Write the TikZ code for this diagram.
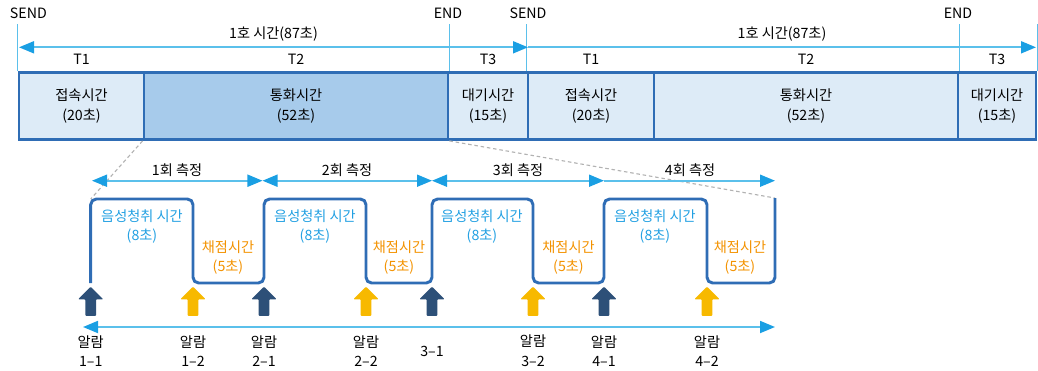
\documentclass[tikz,border=0pt]{standalone}
\usepackage{fontspec}
\setmainfont{Noto Sans CJK KR}
\usetikzlibrary{shapes.arrows,arrows.meta,positioning}

\definecolor{boxline}{HTML}{2F6DB5}
\definecolor{lightcell}{HTML}{DDEBF7}
\definecolor{darkcell}{HTML}{A7CBEB}
\definecolor{guideblue}{HTML}{5BC0EB}
\definecolor{tipblue}{HTML}{1A9FE3}
\definecolor{listenblue}{HTML}{22A0E2}
\definecolor{markorange}{HTML}{F39200}
\definecolor{navyarrow}{HTML}{2D5078}
\definecolor{yellowarrow}{HTML}{F7B900}

\tikzset{
  cell/.style={draw=boxline, line width=2pt, fill=lightcell, minimum height=1.675cm, align=center, inner sep=0},
  guide/.style={draw=guideblue, line width=0.9pt},
  span/.style={draw=guideblue, line width=1.3pt, {Triangle[length=3.75mm,width=3mm,color=tipblue]}-{Triangle[length=3.75mm,width=3mm,color=tipblue]}},
  endspan/.style={draw=guideblue, line width=1.3pt, -{Triangle[length=3.75mm,width=3mm,color=tipblue]}},
  wave/.style={draw=boxline, line width=2.1pt, rounded corners=4pt},
  zoomline/.style={draw=gray!60, dash pattern=on 2.5pt off 2pt, line width=0.8pt},
  alarm/.style={single arrow, shape border rotate=90, draw=none, inner sep=3.6pt, minimum height=0.73cm, single arrow head extend=0.18cm, rounded corners=0.6pt},
  listen/.style={text=listenblue, align=center},
  scoretext/.style={text=markorange, align=center},
  alarmtext/.style={align=center}
}

\begin{document}
\begin{tikzpicture}[x=0.025cm, y=-0.025cm, font=\fontsize{10.1}{14}\selectfont]
        \useasboundingbox (0,0) rectangle (1038,370);
        % call cycle boxes
        \node[cell, minimum width=3.125cm] (C1) at (81.5,106) {접속시간\\(20초)};
        \node[cell, minimum width=7.6cm, fill=darkcell] (C2) at (296,106) {통화시간\\(52초)};
        \node[cell, minimum width=2cm] (C3) at (488,106) {대기시간\\(15초)};
        \node[cell, minimum width=3.15cm] (C4) at (591,106) {접속시간\\(20초)};
        \node[cell, minimum width=7.6cm] (C5) at (806,106) {통화시간\\(52초)};
        \node[cell, minimum width=1.95cm] (C6) at (997,106) {대기시간\\(15초)};
        \node (S1) at (5,13.5) [anchor=west] {SEND};
        \node (E1) at (448,13.5) {END};
        \node (S2) at (528,13.5) {SEND};
        \node (E2) at (958,13.5) {END};
        \draw[guide] (C1.north west) -- (C1.north west |- S1.south);
        \draw[guide] (C2.north east) -- (C2.north east |- E1.south);
        \draw[guide] (C4.north west) -- (C4.north west |- S2.south);
        \draw[guide] (C5.north east) -- (C5.north east |- E2.south);
        \draw[guide] (C6.north east) -- (C6.north east |- E2.south);
        \coordinate (A0) at (19,47.3);
        \coordinate (A1) at (528,47.3);
        \coordinate (A2) at (1036,47.3);
        \draw[span] (A0) -- (A1);
        \draw[endspan] (A1) -- (A2);
        \node (H1) at (273.5,34) {1호 시간(87초)};
        \node (H2) at (782,34) {1호 시간(87초)};
        \node (T1) at (81.5,59) {T1};
        \node (T2) at (296,59) {T2};
        \node (T3) at (488,59) {T3};
        \node (T4) at (591,59) {T1};
        \node (T5) at (806,59) {T2};
        \node (T6) at (997,59) {T3};
        % zoom of the talk time
        \coordinate (W0) at (90.7,199);
        \coordinate (W1) at (775,198);
        \draw[zoomline] (C2.south west) -- (W0);
        \draw[zoomline] (C2.south east) -- (W1);
        \draw[wave] (90.7,283) |- (193,199) |- (264,283) |- (366,199) |- (432,283) |- (533,199) |- (604,283) |- (707,199) |- (775,283) -- (W1);
        % measurement rounds
        \coordinate (M0) at (92,180.7);
        \coordinate (M1) at (262.5,180.7);
        \coordinate (M2) at (432,180.7);
        \coordinate (M3) at (604,180.7);
        \coordinate (M4) at (775,180.7);
        \draw[span] (M0) -- (M1);
        \draw[span] (M1) -- (M2);
        \draw[span] (M2) -- (M3);
        \draw[endspan] (M3) -- (M4);
        \node (R1) at (177,170) {1회 측정};
        \node (R2) at (347,170) {2회 측정};
        \node (R3) at (518,170) {3회 측정};
        \node (R4) at (690,170) {4회 측정};
        \node[listen] (V1) at (142,226.5) {음성청취 시간\\(8초)};
        \node[listen] (V2) at (315,226.5) {음성청취 시간\\(8초)};
        \node[listen] (V3) at (482,226.5) {음성청취 시간\\(8초)};
        \node[listen] (V4) at (655,226.5) {음성청취 시간\\(8초)};
        \node[scoretext] (K1) at (228,257.5) {채점시간\\(5초)};
        \node[scoretext] (K2) at (399,257.5) {채점시간\\(5초)};
        \node[scoretext] (K3) at (568.5,257.5) {채점시간\\(5초)};
        \node[scoretext] (K4) at (740,257.5) {채점시간\\(5초)};
        % alarms
        \node[alarm, fill=navyarrow] (U1) at (90.7,304) {};
        \node[alarm, fill=yellowarrow] (U2) at (193,304) {};
        \node[alarm, fill=navyarrow] (U3) at (264,304) {};
        \node[alarm, fill=yellowarrow] (U4) at (366,304) {};
        \node[alarm, fill=navyarrow] (U5) at (432,304) {};
        \node[alarm, fill=yellowarrow] (U6) at (533,304) {};
        \node[alarm, fill=navyarrow] (U7) at (604,304) {};
        \node[alarm, fill=yellowarrow] (U8) at (707,304) {};
        \coordinate (B0) at (83,327);
        \coordinate (B1) at (775,327);
        \draw[span] (B0) -- (B1);
        \node[alarmtext] (N1) at (90.7,351) {알람\\1–1};
        \node[alarmtext] (N2) at (193,351) {알람\\1–2};
        \node[alarmtext] (N3) at (264,351) {알람\\2–1};
        \node[alarmtext] (N4) at (366,351) {알람\\2–2};
        \node[alarmtext] (N5) at (432,351) {3–1};
        \node[alarmtext] (N6) at (533,351) {알람\\3–2};
        \node[alarmtext] (N7) at (604,351) {알람\\4–1};
        \node[alarmtext] (N8) at (707,351) {알람\\4–2};
\end{tikzpicture}
\end{document}
